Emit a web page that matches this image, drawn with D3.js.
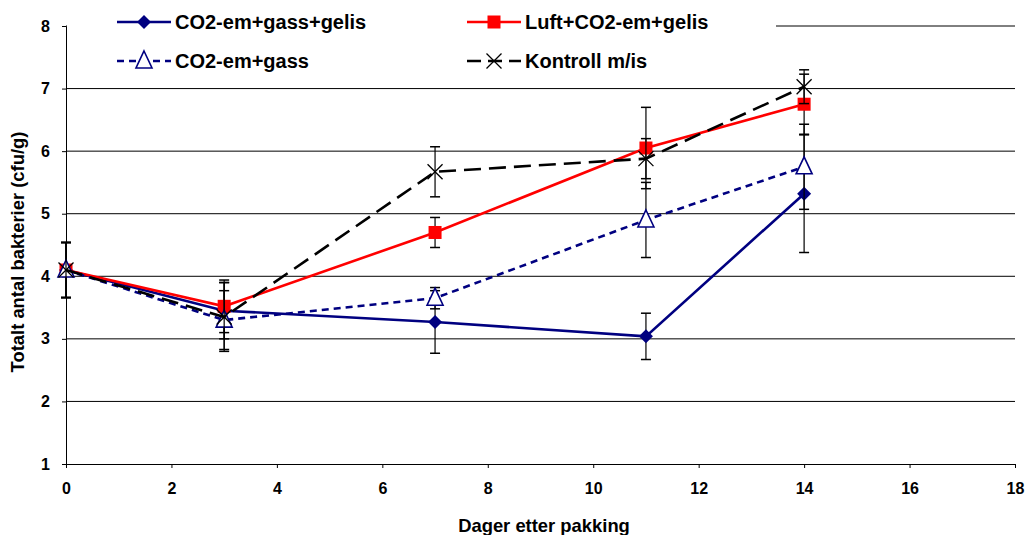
<!DOCTYPE html>
<html>
<head>
<meta charset="utf-8">
<script src="https://cdn.jsdelivr.net/npm/d3@7"></script>
<style>
  body { margin: 0; background: #fff; }
  svg text { font-family: "Liberation Sans", Arial, sans-serif; font-weight: bold; }
</style>
</head>
<body>
<div id="chart"></div>
<script>
// days after packing
const days = [0, 3, 7, 11, 14];

// log cfu/g per series
const gassGelis = [4.1, 3.45, 3.27, 3.04, 5.32];
const luftGelis = [4.1, 3.52, 4.70, 6.05, 6.75];
const gass = [4.1, 3.30, 3.65, 4.90, 5.75];
const kontroll = [4.1, 3.35, 5.67, 5.88, 7.03];

// error bar half widths
const gassGelisErr = [0.44, 0.45, 0.50, 0.37, 0.94];
const luftGelisErr = [0.44, 0.42, 0.24, 0.65, 0.48];
const gassErr = [0.44, 0.47, 0.17, 0.60, 0.68];
const kontrollErr = [0.44, 0.55, 0.40, 0.32, 0.27];

const xTicks = [0, 2, 4, 6, 8, 10, 12, 14, 16, 18];
const yTicks = [1, 2, 3, 4, 5, 6, 7, 8];

const series = [
  {name: 'CO2-em+gass+gelis', vals: gassGelis, err: gassGelisErr, color: '#000080', dash: null, marker: 'diamond'},
  {name: 'Luft+CO2-em+gelis', vals: luftGelis, err: luftGelisErr, color: '#ff0000', dash: null, marker: 'square'},
  {name: 'CO2-em+gass', vals: gass, err: gassErr, color: '#000080', dash: '7,5', marker: 'triangle'},
  {name: 'Kontroll m/is', vals: kontroll, err: kontrollErr, color: '#000000', dash: '17,8', marker: 'cross'}
];

const W = 1027, H = 535;
const svg = d3.select('#chart').append('svg')
  .attr('width', W)
  .attr('height', H);

const x = d3.scaleLinear().domain([0, 18]).range([66, 1015]);
const y = d3.scaleLinear().domain([1, 8]).range([464, 26]);

// gridlines
svg.append('g').selectAll('line')
  .data(yTicks.filter(d => d > 1))
  .join('line')
  .attr('x1', x(0)).attr('x2', x(18))
  .attr('y1', d => y(d)).attr('y2', d => y(d))
  .attr('stroke', '#000').attr('stroke-width', 1);

// axes
const yAxis = svg.append('g')
  .attr('transform', `translate(${x(0)},0)`)
  .call(d3.axisLeft(y).tickValues(yTicks).tickFormat(d3.format('d')).tickSize(4).tickPadding(12));
const xAxis = svg.append('g')
  .attr('transform', `translate(0,${y(1)})`)
  .call(d3.axisBottom(x).tickValues(xTicks).tickFormat(d3.format('d')).tickSize(4).tickPadding(15));
[yAxis, xAxis].forEach(g => {
  g.selectAll('path,line').attr('stroke', '#000');
  g.selectAll('text').attr('font-size', 16).attr('fill', '#000')
    .style('font-family', '"Liberation Sans", Arial, sans-serif').style('font-weight', 'bold');
});

const line = d3.line().x((d, i) => x(days[i])).y(d => y(d));

function drawMarker(g, type, color, cx, cy) {
  if (type === 'diamond') {
    g.append('path').attr('d', `M${cx},${cy - 7}L${cx + 7},${cy}L${cx},${cy + 7}L${cx - 7},${cy}Z`)
      .attr('fill', color);
  } else if (type === 'square') {
    g.append('rect').attr('x', cx - 6.5).attr('y', cy - 6.5).attr('width', 13).attr('height', 13)
      .attr('fill', color);
  } else if (type === 'triangle') {
    g.append('path').attr('d', `M${cx},${cy - 10}L${cx + 8},${cy + 7}L${cx - 8},${cy + 7}Z`)
      .attr('fill', '#fff').attr('stroke', color).attr('stroke-width', 1.6);
  } else {
    g.append('path').attr('d', `M${cx - 7.5},${cy - 7.5}L${cx + 7.5},${cy + 7.5}M${cx - 7.5},${cy + 7.5}L${cx + 7.5},${cy - 7.5}`)
      .attr('stroke', color).attr('stroke-width', 1.3).attr('fill', 'none');
  }
}

series.forEach(s => {
  const g = svg.append('g');
  // error bars
  s.vals.forEach((v, i) => {
    const cx = x(days[i]);
    g.append('line').attr('x1', cx).attr('x2', cx)
      .attr('y1', y(v + s.err[i])).attr('y2', y(v - s.err[i]))
      .attr('stroke', '#000').attr('stroke-width', 1.2);
    [v + s.err[i], v - s.err[i]].forEach(e => {
      g.append('line').attr('x1', cx - 5).attr('x2', cx + 5)
        .attr('y1', y(e)).attr('y2', y(e))
        .attr('stroke', '#000').attr('stroke-width', 1.5);
    });
  });
  g.append('path').datum(s.vals)
    .attr('d', line)
    .attr('fill', 'none')
    .attr('stroke', s.color)
    .attr('stroke-width', 2.6)
    .attr('stroke-dasharray', s.dash);
  s.vals.forEach((v, i) => drawMarker(g, s.marker, s.color, x(days[i]), y(v)));
});

// legend (white box hides the top gridline)
const leg = svg.append('g');
leg.append('rect').attr('x', x(0) + 1).attr('y', 0).attr('width', 775 - x(0)).attr('height', 80).attr('fill', '#fff');
const legPos = [[117, 22], [467, 22], [117, 61], [467, 61]];
series.forEach((s, i) => {
  const [lx, ly] = legPos[i];
  leg.append('line').attr('x1', lx).attr('x2', lx + 54).attr('y1', ly).attr('y2', ly)
    .attr('stroke', s.color).attr('stroke-width', 2.6)
    .attr('stroke-dasharray', s.dash ? (s.marker === 'triangle' ? '7,5' : '14,7') : null);
  drawMarker(leg, s.marker, s.color, lx + 27, ly);
  leg.append('text').attr('x', lx + 58).attr('y', ly + 7)
    .attr('font-size', 20).attr('fill', '#000').text(s.name);
});

// axis titles
svg.append('text')
  .attr('x', 544).attr('y', 532)
  .attr('text-anchor', 'middle').attr('font-size', 18.4)
  .text('Dager etter pakking');
svg.append('text')
  .attr('transform', 'translate(24,252) rotate(-90)')
  .attr('text-anchor', 'middle').attr('font-size', 18.4)
  .text('Totalt antal bakterier (cfu/g)');
</script>
</body>
</html>
